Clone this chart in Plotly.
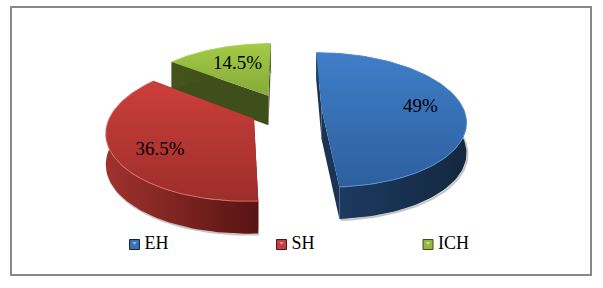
import numpy as np
import plotly.graph_objects as go

categories = ["EH", "SH", "ICH"]
values = [49, 36.5, 14.5]
value_labels = ["49%", "36.5%", "14.5%"]

# styling per slice
top_colors = [("#3f7ec8", "#2d5f9e"), ("#cc3e3a", "#9c2e2b"), ("#a2cb45", "#86aa38")]
wall_colors = [("#1d3e66", "#14273f"), ("#a0322e", "#561412"), ("#44541c", "#3c4a18")]
cut_colors = ["#1a3554", "#6a1a18", "#3f4f1b"]
rim_colors = ["#5a8fcc", "#dc6a66", "#b5d65f"]
swatch_colors = ["#3a70b0", "#c04040", "#94b840"]
swatch_light = ["#8ab4e0", "#e88a88", "#c8e080"]
slice_nudge = [(3, 0), (3, 2), (0.5, 1)]
label_shift = [(3, 0), (6, 7), (-4, -6)]
label_radius = [0.68, 0.72, 0.5]
legend_x = [134.5, 281.5, 428]
legend_y = 244.5

W, H = 603, 288
CX, CY, A, B, P, EXPLODE, DEPTH = 283, 109, 142, 65.5, 0.17, 0.25, 30


def project(X, Y, drop=0.0, nudge=(0, 0)):
    w = 1 + P * Y
    return (CX + A * X / w + nudge[0],
            CY - B * Y / w + drop * DEPTH * (1 - 0.07 * Y) + nudge[1])


fig = go.Figure()
total = sum(values)
edges = np.cumsum([0] + values) / total * 2 * np.pi


def add_poly(xs, ys, grad_type, c0, c1, start, stop):
    fig.add_trace(go.Scatter(
        x=list(xs) + [xs[0]], y=list(ys) + [ys[0]], mode="lines", fill="toself",
        line=dict(width=0, color="rgba(0,0,0,0)"),
        fillgradient=dict(type=grad_type, colorscale=[[0, c0], [1, c1]], start=start, stop=stop),
        hoverinfo="skip", showlegend=False))


for i in [2, 1, 0]:
    a0, a1 = edges[i], edges[i + 1]
    mid = (a0 + a1) / 2
    n = slice_nudge[i]
    ox, oy = EXPLODE * np.sin(mid), EXPLODE * np.cos(mid)
    ang = np.linspace(a0, a1, 90)
    RX, RY = ox + np.sin(ang), oy + np.cos(ang)

    tx, ty = project(RX, RY, 0, n)
    bx, by = project(RX, RY, 1, n)
    ax, ay = project(ox, oy, 0, n)
    abx, aby = project(ox, oy, 1, n)

    # shadow below the wall
    fig.add_trace(go.Scatter(x=bx + 1, y=by + 1, mode="lines",
                             line=dict(color="rgba(90,90,90,0.35)", width=2),
                             hoverinfo="skip", showlegend=False))

    # radial cut faces
    for px, py, qx, qy in [(tx[0], ty[0], bx[0], by[0]), (tx[-1], ty[-1], bx[-1], by[-1])]:
        add_poly([ax, px, qx, abx], [ay, py, qy, aby], "vertical", cut_colors[i], cut_colors[i],
                 min(ay, py), max(aby, qy))

    # outer wall
    add_poly(np.r_[tx, bx[::-1]], np.r_[ty, by[::-1]], "horizontal", wall_colors[i][0], wall_colors[i][1],
             float(min(bx.min(), tx.min())), float(max(bx.max(), tx.max())))

    # top face
    add_poly(np.r_[ax, tx], np.r_[ay, ty], "vertical", top_colors[i][0], top_colors[i][1],
             float(min(ty.min(), ay)), float(max(ty.max(), ay)))
    fig.add_trace(go.Scatter(x=tx, y=ty, mode="lines", line=dict(color=rim_colors[i], width=1),
                             hoverinfo="skip", showlegend=False))

# value labels
for i in range(3):
    a0, a1 = edges[i], edges[i + 1]
    mid = (a0 + a1) / 2
    r = label_radius[i]
    X = EXPLODE * np.sin(mid) + r * np.sin(mid)
    Y = EXPLODE * np.cos(mid) + r * np.cos(mid)
    lx, ly = project(X, Y, 0, slice_nudge[i])
    fig.add_trace(go.Scatter(x=[lx + label_shift[i][0]], y=[ly + label_shift[i][1]], mode="text",
                             text=[value_labels[i]], textposition="middle center",
                             textfont=dict(family="Liberation Serif", size=19, color="#000000"),
                             hoverinfo="skip", showlegend=False))

# legend entries
for i in range(3):
    fig.add_trace(go.Scatter(x=[legend_x[i]], y=[legend_y], mode="markers",
                             marker=dict(symbol="square", size=10, color=swatch_colors[i],
                                         line=dict(color=wall_colors[i][1], width=1)),
                             hoverinfo="skip", showlegend=False))
    fig.add_trace(go.Scatter(x=[legend_x[i]], y=[legend_y - 1.5], mode="markers",
                             marker=dict(symbol="triangle-down", size=4, color=swatch_light[i]),
                             hoverinfo="skip", showlegend=False))
    fig.add_trace(go.Scatter(x=[legend_x[i] + 10], y=[legend_y], mode="text",
                             text=[categories[i]], textposition="middle right",
                             textfont=dict(family="Liberation Serif", size=18, color="#000000"),
                             hoverinfo="skip", showlegend=False))

fig.update_layout(
    width=W, height=H, margin=dict(l=0, r=0, t=0, b=0),
    paper_bgcolor="#ffffff", plot_bgcolor="#ffffff",
    xaxis=dict(range=[0, W], visible=False, fixedrange=True),
    yaxis=dict(range=[H, 0], visible=False, fixedrange=True),
    showlegend=False,
    shapes=[dict(type="rect", xref="paper", yref="paper", x0=11 / W, x1=591 / W,
                 y0=1 - 275 / H, y1=1 - 7 / H, line=dict(color="#888888", width=2))],
)

fig.write_html("out.html", config={"displayModeBar": False},
               post_script="document.body.style.margin='0';")
